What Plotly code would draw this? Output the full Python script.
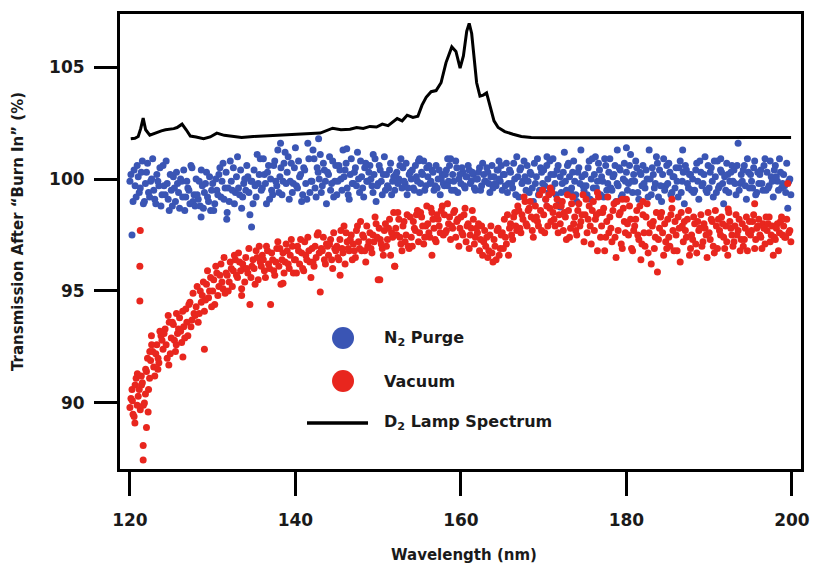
import plotly.graph_objects as go

# ---------------- data ----------------
# wavelength positions of the first set of scatter samples
WAVELENGTH_A = [
    120.0, 120.25, 120.5, 120.75, 121.0, 121.25, 121.5, 121.75,
    122.0, 122.25, 122.5, 122.75, 123.0, 123.25, 123.5, 123.75,
    124.0, 124.25, 124.5, 124.75, 125.0, 125.25, 125.5, 125.75,
    126.0, 126.25, 126.5, 126.75, 127.0, 127.25, 127.5, 127.75,
    128.0, 128.25, 128.5, 128.75, 129.0, 129.25, 129.5, 129.75,
    130.0, 130.25, 130.5, 130.75, 131.0, 131.25, 131.5, 131.75,
    132.0, 132.25, 132.5, 132.75, 133.0, 133.25, 133.5, 133.75,
    134.0, 134.25, 134.5, 134.75, 135.0, 135.25, 135.5, 135.75,
    136.0, 136.25, 136.5, 136.75, 137.0, 137.25, 137.5, 137.75,
    138.0, 138.25, 138.5, 138.75, 139.0, 139.25, 139.5, 139.75,
    140.0, 140.25, 140.5, 140.75, 141.0, 141.25, 141.5, 141.75,
    142.0, 142.25, 142.5, 142.75, 143.0, 143.25, 143.5, 143.75,
    144.0, 144.25, 144.5, 144.75, 145.0, 145.25, 145.5, 145.75,
    146.0, 146.25, 146.5, 146.75, 147.0, 147.25, 147.5, 147.75,
    148.0, 148.25, 148.5, 148.75, 149.0, 149.25, 149.5, 149.75,
    150.0, 150.25, 150.5, 150.75, 151.0, 151.25, 151.5, 151.75,
    152.0, 152.25, 152.5, 152.75, 153.0, 153.25, 153.5, 153.75,
    154.0, 154.25, 154.5, 154.75, 155.0, 155.25, 155.5, 155.75,
    156.0, 156.25, 156.5, 156.75, 157.0, 157.25, 157.5, 157.75,
    158.0, 158.25, 158.5, 158.75, 159.0, 159.25, 159.5, 159.75,
    160.0, 160.25, 160.5, 160.75, 161.0, 161.25, 161.5, 161.75,
    162.0, 162.25, 162.5, 162.75, 163.0, 163.25, 163.5, 163.75,
    164.0, 164.25, 164.5, 164.75, 165.0, 165.25, 165.5, 165.75,
    166.0, 166.25, 166.5, 166.75, 167.0, 167.25, 167.5, 167.75,
    168.0, 168.25, 168.5, 168.75, 169.0, 169.25, 169.5, 169.75,
    170.0, 170.25, 170.5, 170.75, 171.0, 171.25, 171.5, 171.75,
    172.0, 172.25, 172.5, 172.75, 173.0, 173.25, 173.5, 173.75,
    174.0, 174.25, 174.5, 174.75, 175.0, 175.25, 175.5, 175.75,
    176.0, 176.25, 176.5, 176.75, 177.0, 177.25, 177.5, 177.75,
    178.0, 178.25, 178.5, 178.75, 179.0, 179.25, 179.5, 179.75,
    180.0, 180.25, 180.5, 180.75, 181.0, 181.25, 181.5, 181.75,
    182.0, 182.25, 182.5, 182.75, 183.0, 183.25, 183.5, 183.75,
    184.0, 184.25, 184.5, 184.75, 185.0, 185.25, 185.5, 185.75,
    186.0, 186.25, 186.5, 186.75, 187.0, 187.25, 187.5, 187.75,
    188.0, 188.25, 188.5, 188.75, 189.0, 189.25, 189.5, 189.75,
    190.0, 190.25, 190.5, 190.75, 191.0, 191.25, 191.5, 191.75,
    192.0, 192.25, 192.5, 192.75, 193.0, 193.25, 193.5, 193.75,
    194.0, 194.25, 194.5, 194.75, 195.0, 195.25, 195.5, 195.75,
    196.0, 196.25, 196.5, 196.75, 197.0, 197.25, 197.5, 197.75,
    198.0, 198.25, 198.5, 198.75, 199.0, 199.25, 199.5, 199.75,
]

# wavelength positions of the second (interleaved) set of scatter samples
WAVELENGTH_B = [
    120.125, 120.375, 120.625, 120.875, 121.125, 121.375, 121.625, 121.875,
    122.125, 122.375, 122.625, 122.875, 123.125, 123.375, 123.625, 123.875,
    124.125, 124.375, 124.625, 124.875, 125.125, 125.375, 125.625, 125.875,
    126.125, 126.375, 126.625, 126.875, 127.125, 127.375, 127.625, 127.875,
    128.125, 128.375, 128.625, 128.875, 129.125, 129.375, 129.625, 129.875,
    130.125, 130.375, 130.625, 130.875, 131.125, 131.375, 131.625, 131.875,
    132.125, 132.375, 132.625, 132.875, 133.125, 133.375, 133.625, 133.875,
    134.125, 134.375, 134.625, 134.875, 135.125, 135.375, 135.625, 135.875,
    136.125, 136.375, 136.625, 136.875, 137.125, 137.375, 137.625, 137.875,
    138.125, 138.375, 138.625, 138.875, 139.125, 139.375, 139.625, 139.875,
    140.125, 140.375, 140.625, 140.875, 141.125, 141.375, 141.625, 141.875,
    142.125, 142.375, 142.625, 142.875, 143.125, 143.375, 143.625, 143.875,
    144.125, 144.375, 144.625, 144.875, 145.125, 145.375, 145.625, 145.875,
    146.125, 146.375, 146.625, 146.875, 147.125, 147.375, 147.625, 147.875,
    148.125, 148.375, 148.625, 148.875, 149.125, 149.375, 149.625, 149.875,
    150.125, 150.375, 150.625, 150.875, 151.125, 151.375, 151.625, 151.875,
    152.125, 152.375, 152.625, 152.875, 153.125, 153.375, 153.625, 153.875,
    154.125, 154.375, 154.625, 154.875, 155.125, 155.375, 155.625, 155.875,
    156.125, 156.375, 156.625, 156.875, 157.125, 157.375, 157.625, 157.875,
    158.125, 158.375, 158.625, 158.875, 159.125, 159.375, 159.625, 159.875,
    160.125, 160.375, 160.625, 160.875, 161.125, 161.375, 161.625, 161.875,
    162.125, 162.375, 162.625, 162.875, 163.125, 163.375, 163.625, 163.875,
    164.125, 164.375, 164.625, 164.875, 165.125, 165.375, 165.625, 165.875,
    166.125, 166.375, 166.625, 166.875, 167.125, 167.375, 167.625, 167.875,
    168.125, 168.375, 168.625, 168.875, 169.125, 169.375, 169.625, 169.875,
    170.125, 170.375, 170.625, 170.875, 171.125, 171.375, 171.625, 171.875,
    172.125, 172.375, 172.625, 172.875, 173.125, 173.375, 173.625, 173.875,
    174.125, 174.375, 174.625, 174.875, 175.125, 175.375, 175.625, 175.875,
    176.125, 176.375, 176.625, 176.875, 177.125, 177.375, 177.625, 177.875,
    178.125, 178.375, 178.625, 178.875, 179.125, 179.375, 179.625, 179.875,
    180.125, 180.375, 180.625, 180.875, 181.125, 181.375, 181.625, 181.875,
    182.125, 182.375, 182.625, 182.875, 183.125, 183.375, 183.625, 183.875,
    184.125, 184.375, 184.625, 184.875, 185.125, 185.375, 185.625, 185.875,
    186.125, 186.375, 186.625, 186.875, 187.125, 187.375, 187.625, 187.875,
    188.125, 188.375, 188.625, 188.875, 189.125, 189.375, 189.625, 189.875,
    190.125, 190.375, 190.625, 190.875, 191.125, 191.375, 191.625, 191.875,
    192.125, 192.375, 192.625, 192.875, 193.125, 193.375, 193.625, 193.875,
    194.125, 194.375, 194.625, 194.875, 195.125, 195.375, 195.625, 195.875,
    196.125, 196.375, 196.625, 196.875, 197.125, 197.375, 197.625, 197.875,
    198.125, 198.375, 198.625, 198.875, 199.125, 199.375, 199.625, 199.875,
]

N2_PURGE_A = [
    99.9, 97.5, 100.4, 99.2, 100.1, 99.6, 100.8, 99.0,
    100.3, 99.4, 99.9, 100.9, 99.1, 100.2, 99.7, 98.8,
    100.6, 99.3, 99.8, 98.6, 99.5, 100.1, 99.0, 99.8,
    98.7, 99.9, 100.4, 99.2, 99.6, 98.9, 100.5, 99.3,
    100.0, 99.1, 98.8, 99.7, 99.4, 100.3, 99.0, 98.6,
    99.8, 98.9, 99.5, 100.2, 99.2, 100.7, 99.6, 98.5,
    99.0, 99.9, 100.5, 99.4, 101.0, 99.3, 98.7, 99.8,
    99.5, 100.1, 98.4, 99.9, 100.4, 99.2, 99.8, 100.9,
    99.6, 100.2, 98.9, 100.6, 100.0, 99.3, 100.8, 99.7,
    99.4, 100.5, 99.9, 101.2, 100.3, 99.1, 100.7, 99.8,
    101.4, 99.6, 100.1, 99.0, 100.5, 99.8, 101.6, 99.4,
    99.9, 100.9, 99.2, 100.3, 101.1, 99.7, 100.4, 98.9,
    100.2, 99.5, 100.8, 99.9, 99.3, 100.6, 100.0, 101.3,
    100.4, 99.6, 99.1, 100.9, 99.8, 100.5, 101.2, 99.4,
    100.1, 99.2, 100.7, 99.9, 100.6, 99.7, 100.2, 99.0,
    99.8, 100.4, 99.3, 101.0, 100.2, 99.6, 100.7, 99.9,
    99.5, 100.3, 100.0, 100.9, 100.5, 99.8, 99.3, 100.2,
    100.0, 99.6, 100.6, 99.9, 99.4, 100.3, 100.8, 99.7,
    100.1, 99.8, 100.4, 99.5, 100.6, 100.0, 99.3, 100.2,
    99.7, 100.4, 99.9, 100.9, 100.2, 99.5, 100.5, 100.0,
    99.8, 100.3, 99.6, 100.1, 100.4, 99.9, 100.2, 99.5,
    100.0, 100.5, 99.7, 100.2, 99.9, 100.3, 99.4, 100.6,
    100.1, 99.7, 100.4, 99.9, 99.5, 100.2, 100.7, 99.8,
    100.3, 99.6, 100.0, 101.0, 99.2, 100.5, 99.9, 100.1,
    100.6, 99.4, 100.2, 99.0, 99.8, 100.9, 99.5, 100.3,
    100.4, 99.1, 100.0, 100.8, 99.6, 100.2, 99.3, 100.6,
    100.1, 99.8, 101.2, 99.5, 100.7, 99.4, 100.3, 99.9,
    99.0, 100.5, 101.3, 99.7, 100.2, 99.3, 100.8, 100.0,
    99.6, 101.0, 99.9, 100.4, 100.1, 99.2, 100.6, 99.8,
    100.9, 99.5, 100.2, 99.0, 99.7, 100.4, 99.3, 100.7,
    100.3, 99.8, 101.1, 99.4, 99.9, 100.5, 99.1, 100.2,
    100.6, 99.6, 100.0, 101.3, 99.3, 100.2, 99.8, 100.7,
    100.4, 99.0, 100.9, 99.7, 99.8, 100.3, 99.4, 100.1,
    100.5, 99.2, 100.8, 99.9, 98.9, 100.4, 99.6, 100.2,
    100.0, 99.5, 100.7, 99.1, 100.3, 99.8, 101.0, 99.4,
    99.6, 100.5, 99.2, 100.1, 100.8, 99.7, 100.3, 98.9,
    99.5, 100.2, 99.9, 100.6, 100.4, 99.3, 101.6, 99.8,
    99.9, 100.6, 99.1, 100.3, 100.2, 99.6, 100.8, 99.4,
    99.8, 100.4, 99.5, 100.9, 100.3, 99.7, 100.1, 99.2,
    100.6, 99.9, 100.9, 99.6, 100.2, 99.4, 98.7, 100.0,
]

N2_PURGE_B = [
    100.2, 99.0, 99.7, 100.6, 99.4, 100.3, 98.9, 99.8,
    100.7, 99.2, 100.0, 99.5, 98.9, 99.9, 100.5, 99.3,
    99.7, 100.8, 99.1, 100.2, 98.8, 99.6, 100.3, 99.4,
    100.0, 99.2, 98.6, 99.9, 99.5, 100.6, 99.0, 98.8,
    99.3, 99.9, 100.4, 98.7, 99.8, 99.2, 100.1, 99.5,
    98.6, 100.0, 99.3, 100.5, 99.9, 99.1, 100.3, 99.6,
    100.8, 99.5, 98.9, 100.1, 99.6, 100.4, 99.2, 100.0,
    100.6, 99.4, 99.9, 98.9, 99.7, 101.1, 100.2, 99.5,
    100.9, 99.8, 100.3, 99.1, 99.5, 100.6, 99.9, 101.3,
    100.1, 99.3, 100.7, 99.8, 101.0, 99.9, 99.4, 100.5,
    99.7, 100.8, 100.2, 99.3, 100.4, 99.1, 100.9, 99.9,
    101.3, 99.6, 100.5, 100.0, 99.4, 100.7, 99.9, 100.3,
    101.0, 99.8, 99.2, 100.6, 99.9, 100.4, 99.5, 100.1,
    100.7, 99.3, 100.2, 99.8, 100.3, 99.7, 100.0, 100.8,
    99.6, 100.5, 99.9, 100.3, 100.0, 99.4, 100.9, 99.7,
    100.6, 99.9, 100.2, 99.5, 99.7, 100.4, 99.3, 100.1,
    100.2, 99.8, 100.6, 99.6, 99.9, 100.7, 99.6, 100.3,
    100.4, 99.5, 100.1, 100.8, 99.8, 100.2, 99.5, 100.5,
    100.6, 99.9, 100.3, 99.7, 99.6, 100.4, 100.0, 99.8,
    100.2, 99.7, 100.6, 99.5, 99.9, 100.8, 99.4, 100.2,
    100.5, 99.7, 100.1, 100.6, 99.8, 100.3, 99.6, 100.0,
    100.3, 99.5, 100.7, 99.9, 100.5, 99.8, 100.1, 99.6,
    99.8, 100.4, 100.0, 100.6, 100.2, 99.7, 99.4, 100.4,
    99.8, 100.7, 99.3, 100.1, 100.4, 99.8, 100.8, 99.5,
    99.9, 100.3, 99.6, 100.7, 100.1, 99.3, 100.5, 99.8,
    99.7, 100.6, 99.4, 100.2, 100.9, 99.8, 100.4, 99.0,
    99.4, 100.3, 99.9, 100.6, 100.1, 99.6, 100.8, 99.3,
    100.3, 99.8, 100.1, 99.5, 99.7, 100.5, 99.1, 100.9,
    100.2, 99.6, 100.7, 99.3, 99.9, 100.9, 99.5, 100.3,
    99.6, 100.1, 100.6, 99.8, 100.5, 99.2, 100.0, 99.9,
    99.5, 100.6, 99.9, 100.2, 100.8, 99.4, 100.3, 99.7,
    99.8, 100.4, 99.2, 100.0, 100.5, 99.6, 101.0, 99.2,
    99.7, 100.2, 99.5, 100.6, 100.7, 99.3, 100.1, 99.6,
    99.9, 100.5, 99.4, 100.3, 100.6, 99.8, 100.2, 99.5,
    99.4, 100.4, 99.9, 100.8, 99.7, 100.2, 99.5, 100.6,
    100.3, 99.9, 100.8, 99.4, 99.6, 100.4, 99.8, 100.1,
    100.7, 99.4, 100.3, 99.9, 99.8, 100.6, 99.5, 100.2,
    100.4, 99.7, 100.9, 99.6, 99.9, 100.5, 99.3, 100.3,
    100.2, 99.8, 100.6, 99.5, 99.6, 100.8, 99.9, 100.4,
    100.1, 99.5, 100.3, 99.8, 99.7, 100.7, 99.9, 99.3,
]

VACUUM_A = [
    89.8, 90.6, 89.4, 91.1, 90.3, 89.7, 90.9, 90.0,
    91.4, 90.6, 91.9, 92.3, 91.2, 92.6, 91.8, 93.0,
    92.4, 93.3, 92.0, 93.6, 92.9, 93.5, 92.3, 93.1,
    93.8, 92.7, 93.4, 94.2, 93.0, 94.5, 93.7, 94.0,
    94.3, 93.6, 95.0, 94.8, 94.1, 95.3, 94.7, 95.6,
    95.0, 94.4, 95.8, 95.2, 96.2, 95.1, 94.9, 95.7,
    95.4, 96.0, 95.9, 96.4, 95.6, 96.3, 95.1, 96.0,
    96.5, 95.8, 94.4, 96.1, 96.0, 96.8, 95.5, 96.3,
    96.6, 95.9, 97.0, 96.2, 94.4, 96.4, 95.7, 96.9,
    96.1, 95.3, 96.7, 96.3, 96.8, 96.0, 97.3, 95.8,
    96.4, 97.0, 96.2, 96.7, 95.9, 96.6, 97.4, 96.3,
    96.9, 96.1, 96.5, 97.6, 94.95, 96.8, 96.4, 97.1,
    96.6, 97.3, 96.0, 96.9, 97.0, 96.4, 97.7, 96.7,
    96.2, 97.2, 96.8, 97.5, 97.1, 96.5, 97.9, 96.9,
    96.8, 97.4, 96.3, 97.0, 97.6, 96.7, 97.2, 98.0,
    95.5, 97.3, 96.9, 97.7, 97.0, 97.8, 96.6, 97.4,
    96.1, 97.5, 98.2, 97.1, 97.9, 97.2, 98.4, 96.9,
    97.4, 98.1, 97.7, 98.6, 97.6, 98.3, 97.1, 97.9,
    98.0, 97.4, 98.5, 97.8, 97.2, 98.2, 97.6, 98.8,
    98.4, 97.7, 98.0, 97.3, 97.8, 98.6, 98.1, 97.0,
    98.3, 97.5, 98.7, 97.9, 96.9, 97.8, 98.2, 97.4,
    97.6, 96.8, 97.9, 97.2, 97.0, 96.5, 97.5, 96.7,
    97.3, 96.4, 97.8, 96.9, 97.6, 98.2, 97.1, 96.6,
    98.0, 97.3, 98.5, 97.7, 98.6, 97.6, 98.2, 99.0,
    97.9, 98.7, 98.3, 97.4, 98.8, 98.1, 99.3, 97.7,
    98.4, 99.1, 97.9, 98.7, 99.4, 98.2, 98.8, 97.6,
    98.0, 99.0, 98.5, 97.3, 98.6, 97.8, 99.2, 98.3,
    97.5, 98.9, 98.1, 99.3, 98.4, 97.6, 98.8, 97.1,
    99.0, 98.2, 96.8, 98.5, 97.9, 98.7, 97.4, 99.2,
    98.3, 97.2, 98.9, 96.5, 97.7, 98.5, 96.9, 98.1,
    99.1, 97.5, 98.2, 96.8, 97.9, 98.6, 97.3, 96.4,
    98.4, 97.0, 98.9, 97.6, 96.2, 98.1, 97.4, 95.85,
    97.8, 98.5, 96.6, 97.2, 98.2, 97.0, 98.7, 96.8,
    97.5, 98.3, 96.3, 97.9, 98.1, 97.4, 98.6, 96.9,
    97.3, 98.0, 96.7, 97.7, 98.4, 97.2, 97.8, 96.5,
    97.6, 98.2, 97.0, 98.6, 96.9, 97.7, 98.3, 97.4,
    97.9, 96.6, 98.1, 97.5, 97.2, 98.4, 97.7, 96.8,
    98.0, 97.3, 98.3, 97.6, 97.5, 98.1, 96.9, 97.8,
    98.2, 97.4, 98.0, 97.1, 97.7, 98.3, 97.5, 96.6,
    97.3, 98.0, 97.6, 98.3, 97.9, 97.4, 99.8, 97.7,
]

VACUUM_B = [
    90.2, 89.5, 90.8, 89.9, 90.6, 91.2, 89.9, 90.4,
    92.0, 91.1, 92.6, 91.6, 92.2, 91.5, 93.2, 92.8,
    93.1, 92.6, 93.9, 92.2, 93.6, 92.8, 94.0, 93.3,
    93.2, 94.1, 92.9, 93.6, 94.4, 93.4, 94.9, 93.9,
    95.2, 94.0, 94.5, 95.4, 94.6, 95.9, 95.0, 94.3,
    95.5, 96.1, 94.8, 95.7, 95.4, 96.5, 95.8, 95.0,
    96.3, 95.2, 96.6, 95.7, 96.7, 95.9, 96.2, 95.4,
    96.0, 96.9, 95.6, 96.4, 95.3, 96.5, 97.0, 96.1,
    96.4, 95.6, 96.8, 96.0, 96.7, 95.9, 96.3, 97.2,
    96.9, 96.4, 95.8, 97.1, 96.2, 96.6, 97.0, 96.4,
    95.8, 96.8, 97.3, 96.0, 97.2, 96.4, 96.8, 95.6,
    96.3, 97.0, 97.5, 96.7, 96.9, 97.4, 96.2, 97.0,
    97.1, 96.4, 97.6, 96.8, 96.5, 97.3, 96.9, 97.9,
    97.6, 96.9, 97.3, 96.4, 96.8, 97.7, 97.2, 98.1,
    97.5, 96.8, 97.9, 97.2, 96.9, 97.5, 98.3, 97.4,
    97.8, 97.1, 96.6, 98.0, 97.3, 98.2, 97.6, 98.5,
    97.8, 98.5, 97.4, 96.8, 98.1, 97.5, 97.0, 98.3,
    97.0, 97.8, 98.4, 97.2, 98.5, 97.9, 97.4, 98.8,
    97.6, 98.7, 98.2, 97.3, 98.4, 97.9, 98.6, 97.5,
    97.6, 98.9, 98.3, 97.9, 98.5, 97.4, 98.2, 97.8,
    97.6, 98.4, 97.2, 98.0, 97.5, 98.6, 97.1, 97.8,
    98.0, 97.3, 96.6, 97.7, 97.4, 96.8, 97.9, 96.3,
    97.0, 97.7, 96.6, 97.5, 96.9, 97.4, 98.4, 97.8,
    97.5, 98.3, 97.9, 98.8, 97.8, 98.4, 99.2, 98.0,
    98.6, 99.0, 97.7, 98.2, 98.3, 97.9, 98.6, 99.5,
    97.6, 98.8, 99.3, 98.1, 98.5, 97.9, 99.1, 98.4,
    98.8, 97.7, 98.3, 99.3, 97.4, 98.9, 98.0, 97.7,
    98.6, 97.9, 98.4, 97.2, 99.1, 98.2, 97.9, 98.6,
    97.7, 98.4, 99.2, 97.4, 98.5, 96.8, 98.1, 97.6,
    97.8, 98.6, 97.4, 99.0, 98.4, 97.1, 98.7, 97.6,
    98.0, 98.8, 96.9, 97.7, 98.2, 97.5, 98.8, 97.1,
    97.6, 98.3, 96.7, 98.0, 97.9, 96.9, 98.5, 97.3,
    98.3, 97.6, 98.0, 96.9, 97.4, 98.4, 97.7, 98.1,
    96.8, 97.8, 98.5, 97.2, 97.7, 98.2, 96.6, 97.5,
    98.3, 97.1, 98.1, 97.8, 97.0, 98.0, 97.5, 98.5,
    97.3, 98.1, 96.7, 97.9, 98.2, 97.5, 98.0, 96.9,
    97.2, 98.5, 97.8, 97.0, 97.9, 97.5, 98.2, 97.3,
    97.0, 97.8, 96.8, 98.1, 97.7, 98.4, 97.3, 97.9,
    97.5, 96.9, 97.8, 98.3, 98.0, 97.2, 97.9, 97.4,
    97.8, 96.8, 98.1, 97.5, 97.4, 98.2, 97.6, 97.2,
]

# additional scattered points (outliers / dense spots)
N2_EXTRA_WL = [134.7, 138.2, 142.8, 146.2, 149.4, 155.0, 158.4, 170.4,
               172.0, 178.9, 180.0, 186.8, 128.6, 131.7, 164.6, 191.4]
N2_EXTRA_VAL = [97.86, 101.6, 101.8, 101.35, 101.1, 100.9, 100.9, 101.0,
                98.75, 101.3, 101.4, 101.3, 98.3, 98.2, 100.8, 100.9]

VAC_EXTRA_WL = [121.25, 121.2, 121.2, 121.6, 121.6, 122.0, 120.3, 120.6,
                120.9, 121.4, 121.9, 122.2, 122.4, 122.6, 126.4, 129.0,
                133.5, 138.5, 145.4, 150.2, 152.0, 156.5, 179.5, 182.0,
                185.5, 192.3, 195.5, 176.5, 170.8, 123.4, 124.7, 125.6]
VAC_EXTRA_VAL = [97.7, 96.1, 94.55, 87.45, 88.1, 88.9, 90.1, 89.1,
                 91.3, 90.8, 91.5, 89.6, 92.3, 93.0, 92.05, 92.4,
                 94.8, 95.35, 95.7, 95.5, 96.1, 96.6, 99.1, 99.0,
                 99.1, 98.66, 98.9, 99.4, 99.6, 92.0, 91.7, 92.6]

LAMP_WL = [120.1, 120.6, 121.0, 121.3, 121.6, 121.9, 122.4, 122.8, 123.3,
           123.8, 124.3, 124.8, 125.3, 125.7, 126.3, 126.8, 127.3, 128.0,
           128.9, 129.7, 130.5, 131.4, 132.4, 133.5, 134.9, 136.0, 137.5,
           139.0, 140.5, 142.0, 143.0, 144.5, 145.5, 146.6, 147.4, 148.2,
           149.0, 149.8, 150.5, 151.2, 151.8, 152.3, 152.9, 153.5, 154.2,
           154.8, 155.3, 155.8, 156.4, 157.0, 157.6, 158.2, 158.9, 159.4,
           159.9, 160.3, 160.7, 161.0, 161.3, 161.6, 161.9, 162.3, 162.7,
           163.1, 163.5, 164.0, 164.5, 165.3, 166.3, 167.3, 168.5, 170.0,
           175.0, 180.0, 185.0, 190.0, 195.0, 199.9]
LAMP_VAL = [101.8, 101.82, 101.9, 102.25, 102.72, 102.2, 101.96, 102.02, 102.1,
            102.15, 102.2, 102.22, 102.25, 102.3, 102.45, 102.2, 101.92, 101.88,
            101.8, 101.88, 102.05, 101.95, 101.9, 101.86, 101.9, 101.92, 101.94,
            101.96, 102.0, 102.02, 102.05, 102.27, 102.2, 102.22, 102.3, 102.26,
            102.35, 102.32, 102.45, 102.38, 102.55, 102.7, 102.6, 102.85, 102.75,
            102.8, 103.3, 103.65, 103.9, 103.95, 104.3, 105.2, 105.9, 105.7,
            104.95, 105.5, 106.6, 106.95, 106.5, 105.3, 104.3, 103.7, 103.75,
            103.85, 103.3, 102.6, 102.3, 102.12, 102.0, 101.9, 101.85, 101.84,
            101.84, 101.85, 101.85, 101.86, 101.86, 101.86]

X_TICKS = [120, 140, 160, 180, 200]
Y_TICKS = [90, 95, 100, 105]

BLUE = "#3a55b4"
RED = "#e8261e"
FONT = "DejaVu Sans"

fig = go.Figure()

fig.add_trace(go.Scatter(
    x=WAVELENGTH_A + WAVELENGTH_B + N2_EXTRA_WL,
    y=N2_PURGE_A + N2_PURGE_B + N2_EXTRA_VAL,
    mode="markers", name="N2 Purge",
    marker=dict(color=BLUE, size=7, line=dict(width=0)),
))
fig.add_trace(go.Scatter(
    x=WAVELENGTH_A + WAVELENGTH_B + VAC_EXTRA_WL,
    y=VACUUM_A + VACUUM_B + VAC_EXTRA_VAL,
    mode="markers", name="Vacuum",
    marker=dict(color=RED, size=7, line=dict(width=0)),
))
fig.add_trace(go.Scatter(
    x=LAMP_WL, y=LAMP_VAL, mode="lines", name="D2 Lamp Spectrum",
    line=dict(color="black", width=3),
))

axis_font = dict(family=FONT, size=17, color="#1a1a1a", weight="bold")

fig.update_xaxes(
    range=[118.8, 201.1], tickvals=X_TICKS, ticks="outside", ticklen=24,
    tickwidth=3, tickcolor="black", showline=True, linewidth=3,
    linecolor="black", mirror=True, showgrid=False, zeroline=False,
    tickfont=axis_font, ticklabelstandoff=10, automargin=False,
)
fig.update_yaxes(
    range=[87.05, 107.37], tickvals=Y_TICKS, ticks="outside", ticklen=23,
    tickwidth=3, tickcolor="black", showline=True, linewidth=3,
    linecolor="black", mirror=True, showgrid=False, zeroline=False,
    tickfont=axis_font, ticklabelstandoff=6, automargin=False,
)

title_font = dict(family=FONT, size=15, color="#1a1a1a", weight="bold")
legend_font = dict(family=FONT, size=16, color="#1a1a1a", weight="bold")

annotations = [
    dict(text="Wavelength (nm)", x=0.505, y=-0.189, xref="paper", yref="paper",
         xanchor="center", yanchor="middle", showarrow=False, font=title_font),
    dict(text="Transmission After \u201cBurn In\u201d (%)", x=-0.1498, y=0.523,
         xref="paper", yref="paper", xanchor="center", yanchor="middle",
         textangle=-90, showarrow=False, font=title_font),
    dict(text="N<sub>2</sub> Purge", x=0.3847, y=0.2879, xref="paper", yref="paper",
         xanchor="left", yanchor="middle", showarrow=False, font=legend_font),
    dict(text="Vacuum", x=0.3847, y=0.1934, xref="paper", yref="paper",
         xanchor="left", yanchor="middle", showarrow=False, font=legend_font),
    dict(text="D<sub>2</sub> Lamp Spectrum", x=0.3847, y=0.1011, xref="paper",
         yref="paper", xanchor="left", yanchor="middle", showarrow=False,
         font=legend_font),
]

shapes = [
    dict(type="circle", xref="paper", yref="paper", xsizemode="pixel",
         ysizemode="pixel", xanchor=0.3275, yanchor=0.2879,
         x0=-11, x1=11, y0=-11, y1=11, fillcolor=BLUE, line=dict(width=0)),
    dict(type="circle", xref="paper", yref="paper", xsizemode="pixel",
         ysizemode="pixel", xanchor=0.3275, yanchor=0.1934,
         x0=-11, x1=11, y0=-11, y1=11, fillcolor=RED, line=dict(width=0)),
    dict(type="line", xref="paper", yref="paper", x0=0.2746, x1=0.3642,
         y0=0.1011, y1=0.1011, line=dict(color="black", width=3.5)),
]

fig.update_layout(
    width=813, height=566,
    margin=dict(l=120, r=12, t=14, b=97),
    paper_bgcolor="white", plot_bgcolor="white",
    showlegend=False,
    annotations=annotations, shapes=shapes,
)

fig.write_html(
    "out.html",
    config={"displayModeBar": False},
    post_script="document.body.style.margin='0';document.body.style.padding='0';",
)
